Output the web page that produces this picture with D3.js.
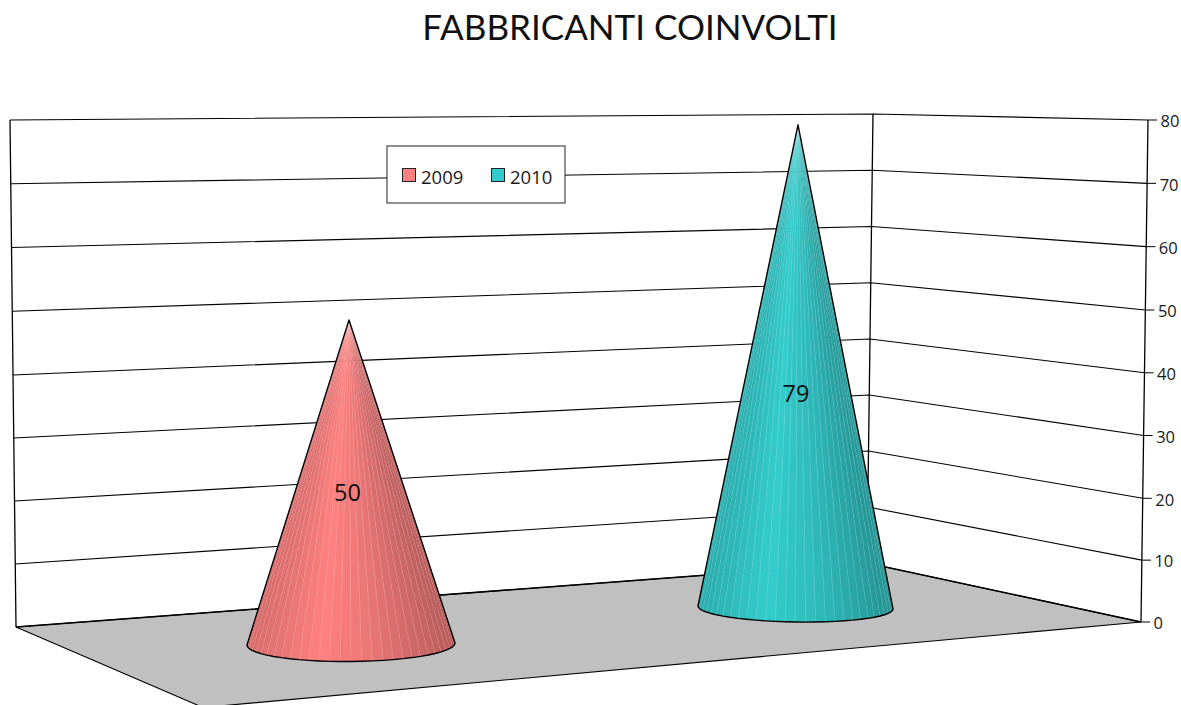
<!DOCTYPE html>
<html>
<head>
<meta charset="utf-8">
<title>Fabbricanti coinvolti</title>
<script src="https://cdnjs.cloudflare.com/ajax/libs/d3/7.8.5/d3.min.js"></script>
<style>
html,body{margin:0;padding:0;background:#fff;overflow:hidden}
svg{display:block}
text{font-family:"Open Sans",sans-serif;fill:#1a1a1a}
</style>
</head>
<body>
<svg id="chart" width="1181" height="705"></svg>
<script>
// Chart values
const titleText = "FABBRICANTI COINVOLTI";
const categories = ["2009", "2010"];
const values = [50, 79];
const tickValues = [0, 10, 20, 30, 40, 50, 60, 70, 80];
const baseColors = ["#FF8080", "#33CCCC"];

// Projection of the 3D box: pixel height of the value axis on each wall edge
const leftEdge = d3.scaleLinear([0, 40, 80], [627, 375, 120]);
const backEdge = d3.scaleLinear([0, 40, 80], [563, 339, 114]);
const rightEdge = d3.scaleLinear([0, 20, 50, 80], [622, 498.3, 310, 120]);
const leftX = d3.scaleLinear([0, 80], [16, 10]);
const backX = d3.scaleLinear([0, 80], [867, 873]);
const rightX = d3.scaleLinear([0, 80], [1141, 1148]);

// Cone placement on the floor
const coneX = d3.scalePoint(categories, [351, 795.5]);
const coneBase = [644, 607.5];
const coneUnit = [6.48, 6.11];
const coneRx = [104, 97.5];
const coneRy = [17.5, 14.5];
const coneTilt = [-1, 1.5];
const coneLean = [-2, 2.5];
const labelFraction = [0.469, 0.443];
const FACETS = 30;

const svg = d3.select("#chart");

svg.append("text")
  .attr("x", 630).attr("y", 40)
  .attr("text-anchor", "middle")
  .style("font-family", "Lato, sans-serif")
  .style("font-size", "35px")
  .style("fill", "#111")
  .text(titleText);

// Floor, clipped by the bottom of the page
const floorCorner = [203, 707.5];
svg.append("path")
  .attr("d", d3.line()([
    [leftX(0), leftEdge(0)], [backX(0), backEdge(0)],
    [rightX(0), rightEdge(0)], floorCorner
  ]) + "Z")
  .attr("fill", "#C0C0C0")
  .attr("stroke", "#000")
  .attr("stroke-width", 1.1);
// The edges where the floor meets the walls read heavier
svg.append("path")
  .attr("d", d3.line()([
    [leftX(0), leftEdge(0)], [backX(0), backEdge(0)], [rightX(0), rightEdge(0)]
  ]))
  .attr("fill", "none")
  .attr("stroke", "#000")
  .attr("stroke-width", 1.5);

// Wall gridlines, from the left edge to the back corner and on to the right edge
const grid = svg.append("g").attr("fill", "none").attr("stroke", "#000").attr("stroke-width", 1.1);
grid.selectAll("path.grid")
  .data(tickValues.filter(v => v > 0))
  .join("path")
  .attr("class", "grid")
  .attr("d", v => d3.line()([
    [leftX(v), leftEdge(v)], [backX(v), backEdge(v)], [rightX(v), rightEdge(v)]
  ]));

// Vertical edges of the walls
[[leftX, leftEdge], [backX, backEdge], [rightX, rightEdge]].forEach(([fx, fy]) => {
  grid.append("path").attr("d", d3.line()([[fx(0), fy(0)], [fx(80), fy(80)]]))
    .attr("stroke-width", 1.3);
});

// Value axis on the right edge
const ticks = svg.append("g").selectAll("g").data(tickValues).join("g");
ticks.append("line")
  .attr("x1", v => rightX(v)).attr("x2", v => rightX(v) + 9)
  .attr("y1", v => rightEdge(v)).attr("y2", v => rightEdge(v))
  .attr("stroke", "#000");
ticks.append("text")
  .attr("x", v => rightX(v) + 12.5)
  .attr("y", v => rightEdge(v) + 1.3)
  .attr("dy", "0.36em")
  .style("font-size", "16.5px")
  .text(v => v);

// Legend box sits over the gridlines
const legend = svg.append("g");
legend.append("rect")
  .attr("x", 387).attr("y", 146).attr("width", 178).attr("height", 57)
  .attr("fill", "#fff").attr("stroke", "#222");
const legendX = d3.scalePoint(categories, [402, 491]);
const items = legend.selectAll("g").data(categories).join("g");
items.append("rect")
  .attr("x", d => legendX(d) + 0.5).attr("y", 168.5)
  .attr("width", 13).attr("height", 13)
  .attr("fill", (d, i) => baseColors[i])
  .attr("stroke", "#222");
items.append("text")
  .attr("x", d => legendX(d) + 19).attr("y", 177)
  .attr("dy", "0.36em")
  .style("font-size", "18.5px")
  .text(d => d);

// Lighting across the cone, from its left silhouette to its right one
const shade = d3.scaleLinear([-1, -0.3, 0.2, 1], [0.84, 1, 0.92, 0.72]).clamp(true);

categories.forEach((cat, i) => {
  const cx = coneX(cat);
  const heightScale = d3.scaleLinear([0, 80], [coneBase[i], coneBase[i] - 80 * coneUnit[i]]);
  const apex = [cx + coneLean[i], heightScale(values[i])];
  const rim = t => [
    cx + coneRx[i] * Math.sin(t),
    coneBase[i] + coneRy[i] * Math.cos(t) + coneTilt[i] * Math.sin(t)
  ];
  const angles = d3.range(FACETS + 1).map(k => -Math.PI / 2 + k * Math.PI / FACETS);
  const outline = d3.line()([apex, ...angles.map(rim)]) + "Z";
  const base = d3.rgb(baseColors[i]);
  const g = svg.append("g");

  // Partial underlay keeps the walls only faintly visible through the seams
  g.append("path")
    .attr("d", outline)
    .attr("fill", baseColors[i])
    .attr("fill-opacity", 0.7);

  g.selectAll("path.facet")
    .data(d3.pairs(angles))
    .join("path")
    .attr("class", "facet")
    .attr("d", ([a, b]) => d3.line()([apex, rim(a), rim(b)]) + "Z")
    .attr("fill", ([a, b]) => {
      const s = shade(Math.sin((a + b) / 2));
      return d3.rgb(base.r * s, base.g * s, base.b * s);
    });

  // Pale seams between the facets
  g.selectAll("path.seam")
    .data(angles.slice(1, -1))
    .join("path")
    .attr("class", "seam")
    .attr("d", t => d3.line()([apex, rim(t)]))
    .attr("stroke", "#fff")
    .attr("stroke-opacity", 0.22)
    .attr("stroke-width", 0.6);

  // Silhouette
  g.append("path")
    .attr("d", outline)
    .attr("fill", "none")
    .attr("stroke", "#000")
    .attr("stroke-width", 1.4)
    .attr("stroke-linejoin", "round");

  // Value label
  const labelY = coneBase[i] - labelFraction[i] * (coneBase[i] - apex[1]);
  g.append("text")
    .attr("x", cx + (i === 0 ? -3.5 : 0.5)).attr("y", labelY)
    .attr("dy", "0.36em")
    .attr("text-anchor", "middle")
    .style("font-size", "23.5px")
    .style("fill", "#111")
    .text(values[i]);
});
</script>
</body>
</html>
